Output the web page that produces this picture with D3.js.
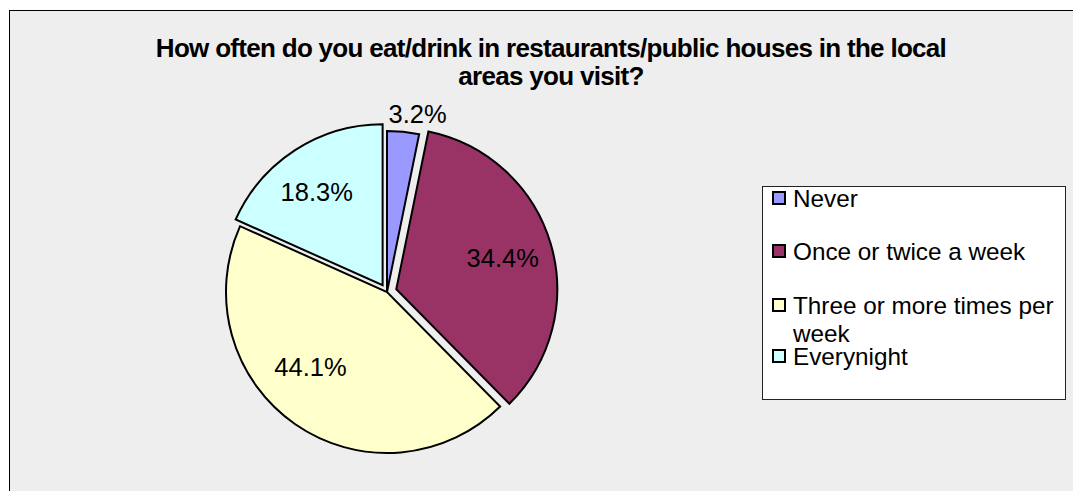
<!DOCTYPE html>
<html>
<head>
<meta charset="utf-8">
<script src="https://cdn.jsdelivr.net/npm/d3@7"></script>
<style>
    html, body { margin: 0; padding: 0; background: #fff; }
    svg { display: block; font-family: "Liberation Sans", Arial, sans-serif; }
</style>
</head>
<body>
<div id="root"></div>
<script>
const categories = ['Never', 'Once or twice a week', 'Three or more times per week', 'Everynight'];
const legendLines = [['Never'], ['Once or twice a week'], ['Three or more times per', 'week'], ['Everynight']];
const values = [3.2, 34.4, 44.1, 18.3];
const colors = ['#9999ff', '#993366', '#ffffcc', '#ccffff'];
const titleLines = [
    'How often do you eat/drink in restaurants/public houses in the local',
    'areas you visit?',
];

// how far each slice is pulled out, and where its label sits (fractions of radius, radians)
const explode = [0, 0.06, 0, 0.05];
const labelRadius = [1.12, 0.69, 0.665, 0.71];
const labelTurn = [0.07, 0, 0.19, -0.04];

const width = 1073;
const height = 491;
const radius = 161;
const cx = 387;
const cy = 292;

const svg = d3.select('#root')
    .append('svg')
    .attr('width', width)
    .attr('height', height);

svg.append('rect')
    .attr('x', 9.5)
    .attr('y', 10.5)
    .attr('width', width)
    .attr('height', height)
    .attr('fill', '#eeeeee')
    .attr('stroke', '#000')
    .attr('stroke-width', 1);

svg.append('g')
    .selectAll('text')
    .data(titleLines)
    .join('text')
    .attr('x', 551)
    .attr('y', (d, k) => 57 + k * 28)
    .attr('text-anchor', 'middle')
    .style('font-size', '26px')
    .style('font-weight', 'bold')
    .style('letter-spacing', '-0.7px')
    .text(d => d);

const pie = d3.pie().sort(null).value(d => d);
const arcs = pie(values);
const arc = d3.arc().innerRadius(0).outerRadius(radius);

const shift = (d, k) => {
    const a = (d.startAngle + d.endAngle) / 2;
    const r = explode[k] * radius;
    return [Math.sin(a) * r, -Math.cos(a) * r];
};

const pieG = svg.append('g').attr('transform', `translate(${cx},${cy})`);

pieG.selectAll('path')
    .data(arcs)
    .join('path')
    .attr('transform', (d, k) => `translate(${shift(d, k)})`)
    .attr('d', arc)
    .attr('fill', (d, k) => colors[k])
    .attr('stroke', '#000')
    .attr('stroke-width', 2)
    .attr('stroke-linejoin', 'miter');

pieG.selectAll('text')
    .data(arcs)
    .join('text')
    .attr('transform', (d, k) => {
        const a = (d.startAngle + d.endAngle) / 2 + labelTurn[k];
        const r = labelRadius[k] * radius;
        const [sx, sy] = shift(d, k);
        return `translate(${Math.sin(a) * r + sx},${-Math.cos(a) * r + sy})`;
    })
    .attr('text-anchor', 'middle')
    .attr('dy', '0.36em')
    .style('font-size', '25.5px')
    .text(d => `${d.data.toFixed(1)}%`);

// legend
const legend = svg.append('g');
legend.append('rect')
    .attr('x', 762.5)
    .attr('y', 186.5)
    .attr('width', 303)
    .attr('height', 213)
    .attr('fill', '#fff')
    .attr('stroke', '#222')
    .attr('stroke-width', 1);

const rowBase = [207, 260, 314, 365];

const items = legend.selectAll('g.item')
    .data(categories)
    .join('g')
    .attr('class', 'item');

items.append('rect')
    .attr('x', 773)
    .attr('y', (d, k) => rowBase[k] - 15)
    .attr('width', 12)
    .attr('height', 12)
    .attr('fill', (d, k) => colors[k])
    .attr('stroke', '#000')
    .attr('stroke-width', 2);

items.append('text')
    .attr('x', 793)
    .attr('y', (d, k) => rowBase[k])
    .style('font-size', '24.3px')
    .selectAll('tspan')
    .data((d, k) => legendLines[k])
    .join('tspan')
    .attr('x', 793)
    .attr('dy', (d, k) => (k === 0 ? 0 : 28))
    .text(d => d);
</script>
</body>
</html>
